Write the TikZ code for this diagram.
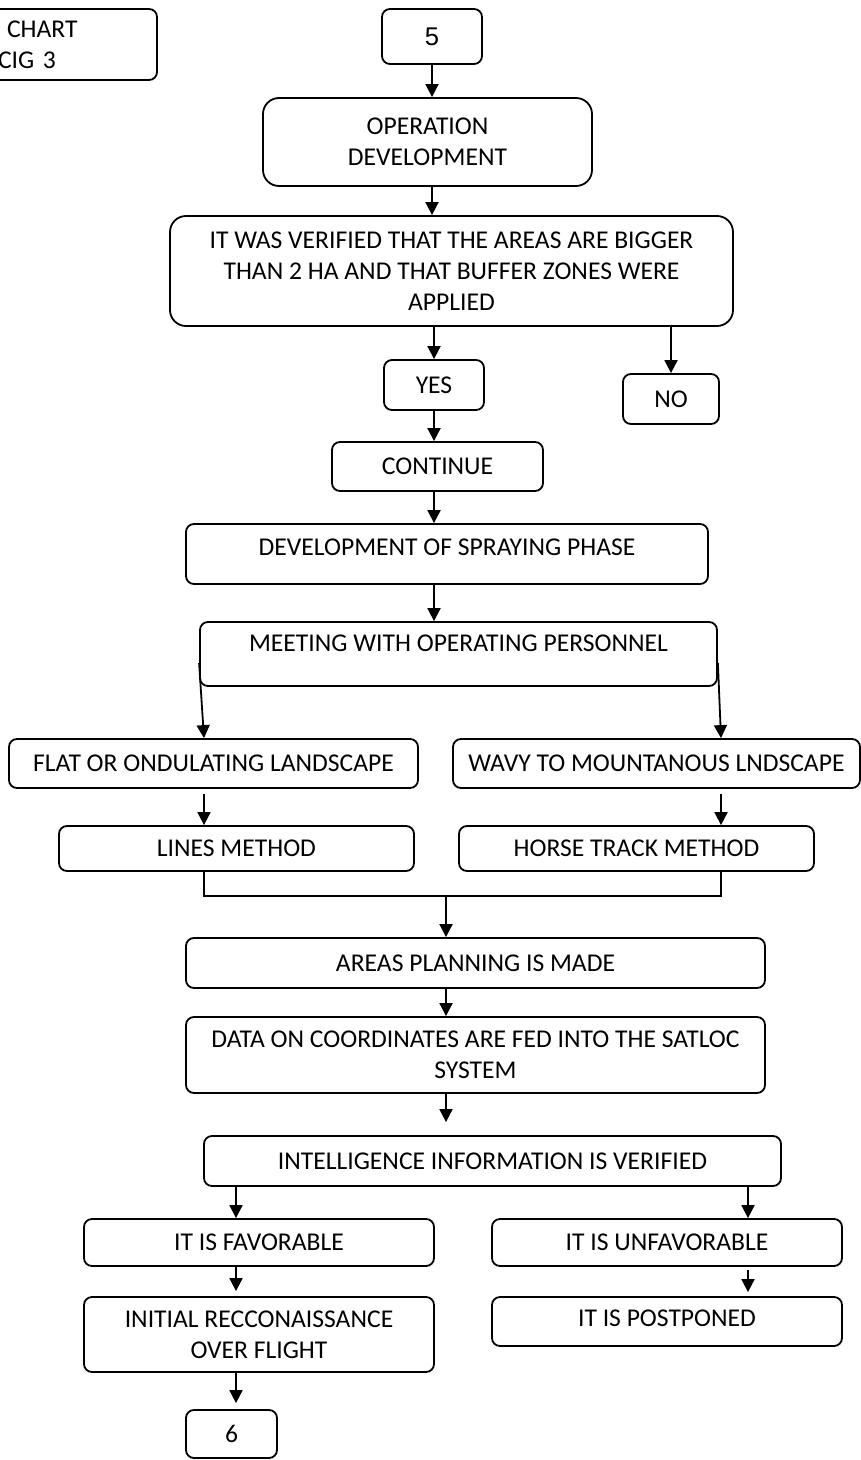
\documentclass[tikz,border=0pt]{standalone}
\usepackage{fontspec}
\setmainfont{Carlito}
\newfontfamily\numfont{Liberation Sans}
\usetikzlibrary{shapes.geometric, arrows.meta, positioning}
\tikzstyle{block} = [rectangle, rounded corners=4pt, draw=black, line width=0.9pt, text centered, align=center, inner sep=2pt, font=\fontsize{12.8}{15.5}\selectfont]
\tikzstyle{bigblock} = [block, rounded corners=8pt]
\tikzstyle{arrow} = [line width=0.9pt, -{Triangle[length=6.5pt,width=6.5pt]}]
\tikzstyle{joinline} = [line width=0.9pt]

\begin{document}
\begin{tikzpicture}
        \useasboundingbox (0,0) rectangle (430.5pt,-730pt);

        % Konektor awal
        \node (five) [block, minimum width=50pt, minimum height=27.5pt] at (216pt,-18.25pt) {\numfont 5};

        % Label bagan (terpotong di kiri)
        \node (chart) [block, node distance=196.75pt, left of=five, yshift=-4pt, minimum width=118.5pt, minimum height=35.5pt, inner xsep=39pt, text width=40.5pt, align=left] {\hspace*{4.5pt}CHART\\CIG 3};

        % Pengembangan operasi
        \node (opdev) [bigblock, node distance=52.75pt, below of=five, xshift=-2.25pt, minimum width=164.5pt, minimum height=44pt] {OPERATION\\DEVELOPMENT};

        % Verifikasi area
        \node (verif) [bigblock, node distance=64.5pt, below of=opdev, xshift=12pt, minimum width=281.5pt, minimum height=55pt] {IT WAS VERIFIED THAT THE AREAS ARE BIGGER\\THAN 2 HA AND THAT BUFFER ZONES WERE\\APPLIED};

        % Ya / Tidak
        \node (yes) [block, node distance=57pt, below of=verif, xshift=-8.75pt, minimum width=50pt, minimum height=25pt] {YES};
        \node (no) [block, node distance=118.5pt, right of=yes, yshift=-7pt, minimum width=48pt, minimum height=25pt] {NO};

        % Lanjut
        \node (cont) [block, node distance=40.75pt, below of=yes, xshift=1.75pt, minimum width=105.5pt, minimum height=24.5pt] {CONTINUE};

        % Fase penyemprotan
        \node (dev) [block, node distance=43.75pt, below of=cont, xshift=4.75pt, minimum width=261pt, minimum height=30pt, text depth=7pt] {DEVELOPMENT OF SPRAYING PHASE};

        % Rapat personel
        \node (meet) [block, node distance=50pt, below of=dev, xshift=5.75pt, minimum width=258.5pt, minimum height=32pt, text depth=11pt] {MEETING WITH OPERATING PERSONNEL};

        % Jenis lanskap
        \node (flat) [block, node distance=54.75pt, below of=meet, xshift=-122.5pt, minimum width=204.5pt, minimum height=24.5pt] {FLAT OR ONDULATING LANDSCAPE};
        \node (wavy) [block, node distance=221.5pt, right of=flat, minimum width=203.5pt, minimum height=24.5pt] {WAVY TO MOUNTANOUS LNDSCAPE};

        % Metode
        \node (lines) [block, node distance=42.5pt, below of=flat, xshift=11.5pt, minimum width=177.5pt, minimum height=22.5pt] {LINES METHOD};
        \node (horse) [block, node distance=200pt, right of=lines, minimum width=177.5pt, minimum height=22.5pt] {HORSE TRACK METHOD};

        % Perencanaan
        \node (areas) [block, node distance=57.25pt, below of=lines, xshift=119.5pt, minimum width=289.5pt, minimum height=25pt] {AREAS PLANNING IS MADE};
        \node (data) [block, node distance=46pt, below of=areas, minimum width=289.5pt, minimum height=38pt] {DATA ON COORDINATES ARE FED INTO THE SATLOC\\SYSTEM};

        % Informasi intelijen
        \node (intel) [block, node distance=53pt, below of=data, xshift=8.5pt, minimum width=288.5pt, minimum height=25pt] {INTELLIGENCE INFORMATION IS VERIFIED};
        \node (fav) [block, node distance=40.75pt, below of=intel, xshift=-116.75pt, minimum width=175pt, minimum height=23.5pt] {IT IS FAVORABLE};
        \node (unfav) [block, node distance=204pt, right of=fav, minimum width=175pt, minimum height=23.5pt] {IT IS UNFAVORABLE};
        \node (init) [block, node distance=46pt, below of=fav, minimum width=175pt, minimum height=37.5pt] {INITIAL RECCONAISSANCE\\OVER FLIGHT};
        \node (post) [block, node distance=39.5pt, below of=unfav, minimum width=175pt, minimum height=24.5pt, text depth=3.5pt] {IT IS POSTPONED};

        % Konektor akhir
        \node (six) [block, node distance=49.75pt, below of=init, xshift=-13.75pt, minimum width=45.5pt, minimum height=24pt] {6};

        % Titik bantu
        \coordinate (lx) at ([xshift=-4.75pt]flat.north);
        \coordinate (rx) at ([xshift=32.25pt]wavy.north);
        \coordinate (join) at (223pt,-448pt);
        \coordinate (fx) at ([xshift=-11.5pt]fav.north);
        \coordinate (ux) at ([xshift=40.5pt]unfav.north);

        % Garis Panah
        \draw [arrow] (five.south) -- (five.south |- opdev.north);
        \draw [arrow] (five.south |- opdev.south) -- (five.south |- verif.north);
        \draw [arrow] (yes.north |- verif.south) -- (yes.north);
        \draw [arrow] (no.north |- verif.south) -- (no.north);
        \draw [arrow] (yes.south) -- (yes.south |- cont.north);
        \draw [arrow] (yes.south |- cont.south) -- (yes.south |- dev.north);
        \draw [arrow] (yes.south |- dev.south) -- (yes.south |- meet.north);
        \draw [arrow] ([yshift=-4.5pt]meet.west) -- (lx);
        \draw [arrow] ([yshift=-4.5pt]meet.east) -- (rx);
        \draw [arrow, shorten <=2.5pt] (lx |- flat.south) -- (lx |- lines.north);
        \draw [arrow, shorten <=2.5pt] (rx |- wavy.south) -- (rx |- horse.north);
        \draw [joinline] (lx |- lines.south) |- (join) -| (rx |- horse.south);
        \draw [arrow] (join) -- (join |- areas.north);
        \draw [arrow] (join |- areas.south) -- (join |- data.north);
        \draw [arrow, shorten >=6.5pt] (join |- data.south) -- (join |- intel.north);
        \draw [arrow] (fx |- intel.south) -- (fx);
        \draw [arrow] (ux |- intel.south) -- (ux);
        \draw [arrow, shorten >=2.5pt] (fx |- fav.south) -- (fx |- init.north);
        \draw [arrow, shorten <=1.5pt, shorten >=2pt] (ux |- unfav.south) -- (ux |- post.north);
        \draw [arrow, shorten >=3pt] (fx |- init.south) -- (fx |- six.north);
    \end{tikzpicture}
\end{document}
